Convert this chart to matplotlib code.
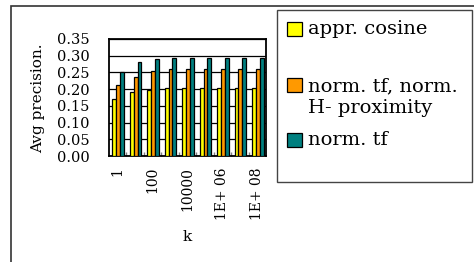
import matplotlib.pyplot as plt
from matplotlib.patches import Rectangle
import numpy as np

# data
k_labels = ['1', '10', '100', '1000', '10000', '1E+ 05', '1E+ 06', '1E+ 07', '1E+ 08']
appr_cosine = [0.170, 0.191, 0.198, 0.204, 0.204, 0.204, 0.204, 0.204, 0.204]
norm_tf_hprox = [0.213, 0.235, 0.255, 0.260, 0.260, 0.260, 0.260, 0.260, 0.260]
norm_tf = [0.251, 0.282, 0.290, 0.294, 0.294, 0.294, 0.294, 0.294, 0.294]
series_names = ['appr. cosine', 'norm. tf, norm.\nH- proximity', 'norm. tf']
COLORSET = ['#FFFF00', '#FF9900', '#008080']

W, H = 474, 262
plt.rcParams['font.family'] = 'DejaVu Serif'
fig = plt.figure(figsize=(W / 100, H / 100), dpi=100)

# outer chart frame (only top and left visible)
fig.patches.append(Rectangle((11 / W, -0.1), 2, 1 - 6 / H + 0.1, transform=fig.transFigure,
                             fill=False, edgecolor='#333333', linewidth=1.2))

ax = fig.add_axes([109 / W, 1 - 156 / H, (266 - 109) / W, (156 - 39) / H])

x = np.arange(len(k_labels))
width = 0.22
for j, vals in enumerate([appr_cosine, norm_tf_hprox, norm_tf]):
    ax.bar(x + (j - 1) * width + 0.03, vals, width, color=COLORSET[j], edgecolor='black',
           linewidth=0.9, zorder=3)

ax.set_xlim(-0.5, len(k_labels) - 0.5)
ax.set_ylim(0, 0.35)
ax.set_yticks(np.arange(0, 0.351, 0.05))
ax.set_yticklabels(['%.2f' % v for v in np.arange(0, 0.351, 0.05)], fontsize=10.5)
ax.yaxis.grid(True, color='black', linewidth=0.9, zorder=0)
ax.tick_params(axis='y', length=0, pad=14)

ax.set_xticks(x[::2])
ax.set_xticklabels(k_labels[::2], rotation=90, fontsize=10, va='top')
ax.set_xticks(x[:-1] + 0.5, minor=True)
ax.tick_params(axis='x', which='major', length=0, pad=8)
ax.tick_params(axis='x', which='minor', direction='in', length=3, color='gray', width=1)
for s in ax.spines.values():
    s.set_linewidth(1.3)

fig.text(38 / W, 1 - 98.5 / H, 'Avg precision.', rotation=90, ha='center', va='center', fontsize=11)
fig.text(187.5 / W, 1 - 237 / H, 'k', ha='center', va='center', fontsize=11)

# legend box
fig.patches.append(Rectangle((277 / W, 1 - 182 / H), (472 - 277) / W, (182 - 10) / H,
                             transform=fig.transFigure, fill=False, edgecolor='#444444', linewidth=1))
marker_y = [29, 84.5, 140]
text_y = [29, 97, 140]
for j, name in enumerate(series_names):
    fig.patches.append(Rectangle((287 / W, 1 - (marker_y[j] + 7) / H), 15 / W, 14 / H,
                                 transform=fig.transFigure, facecolor=COLORSET[j],
                                 edgecolor='black', linewidth=0.9))
    fig.text(308 / W, 1 - text_y[j] / H, name, ha='left', va='center', fontsize=14,
             linespacing=1.3)

fig.savefig('out.png', dpi=100)
